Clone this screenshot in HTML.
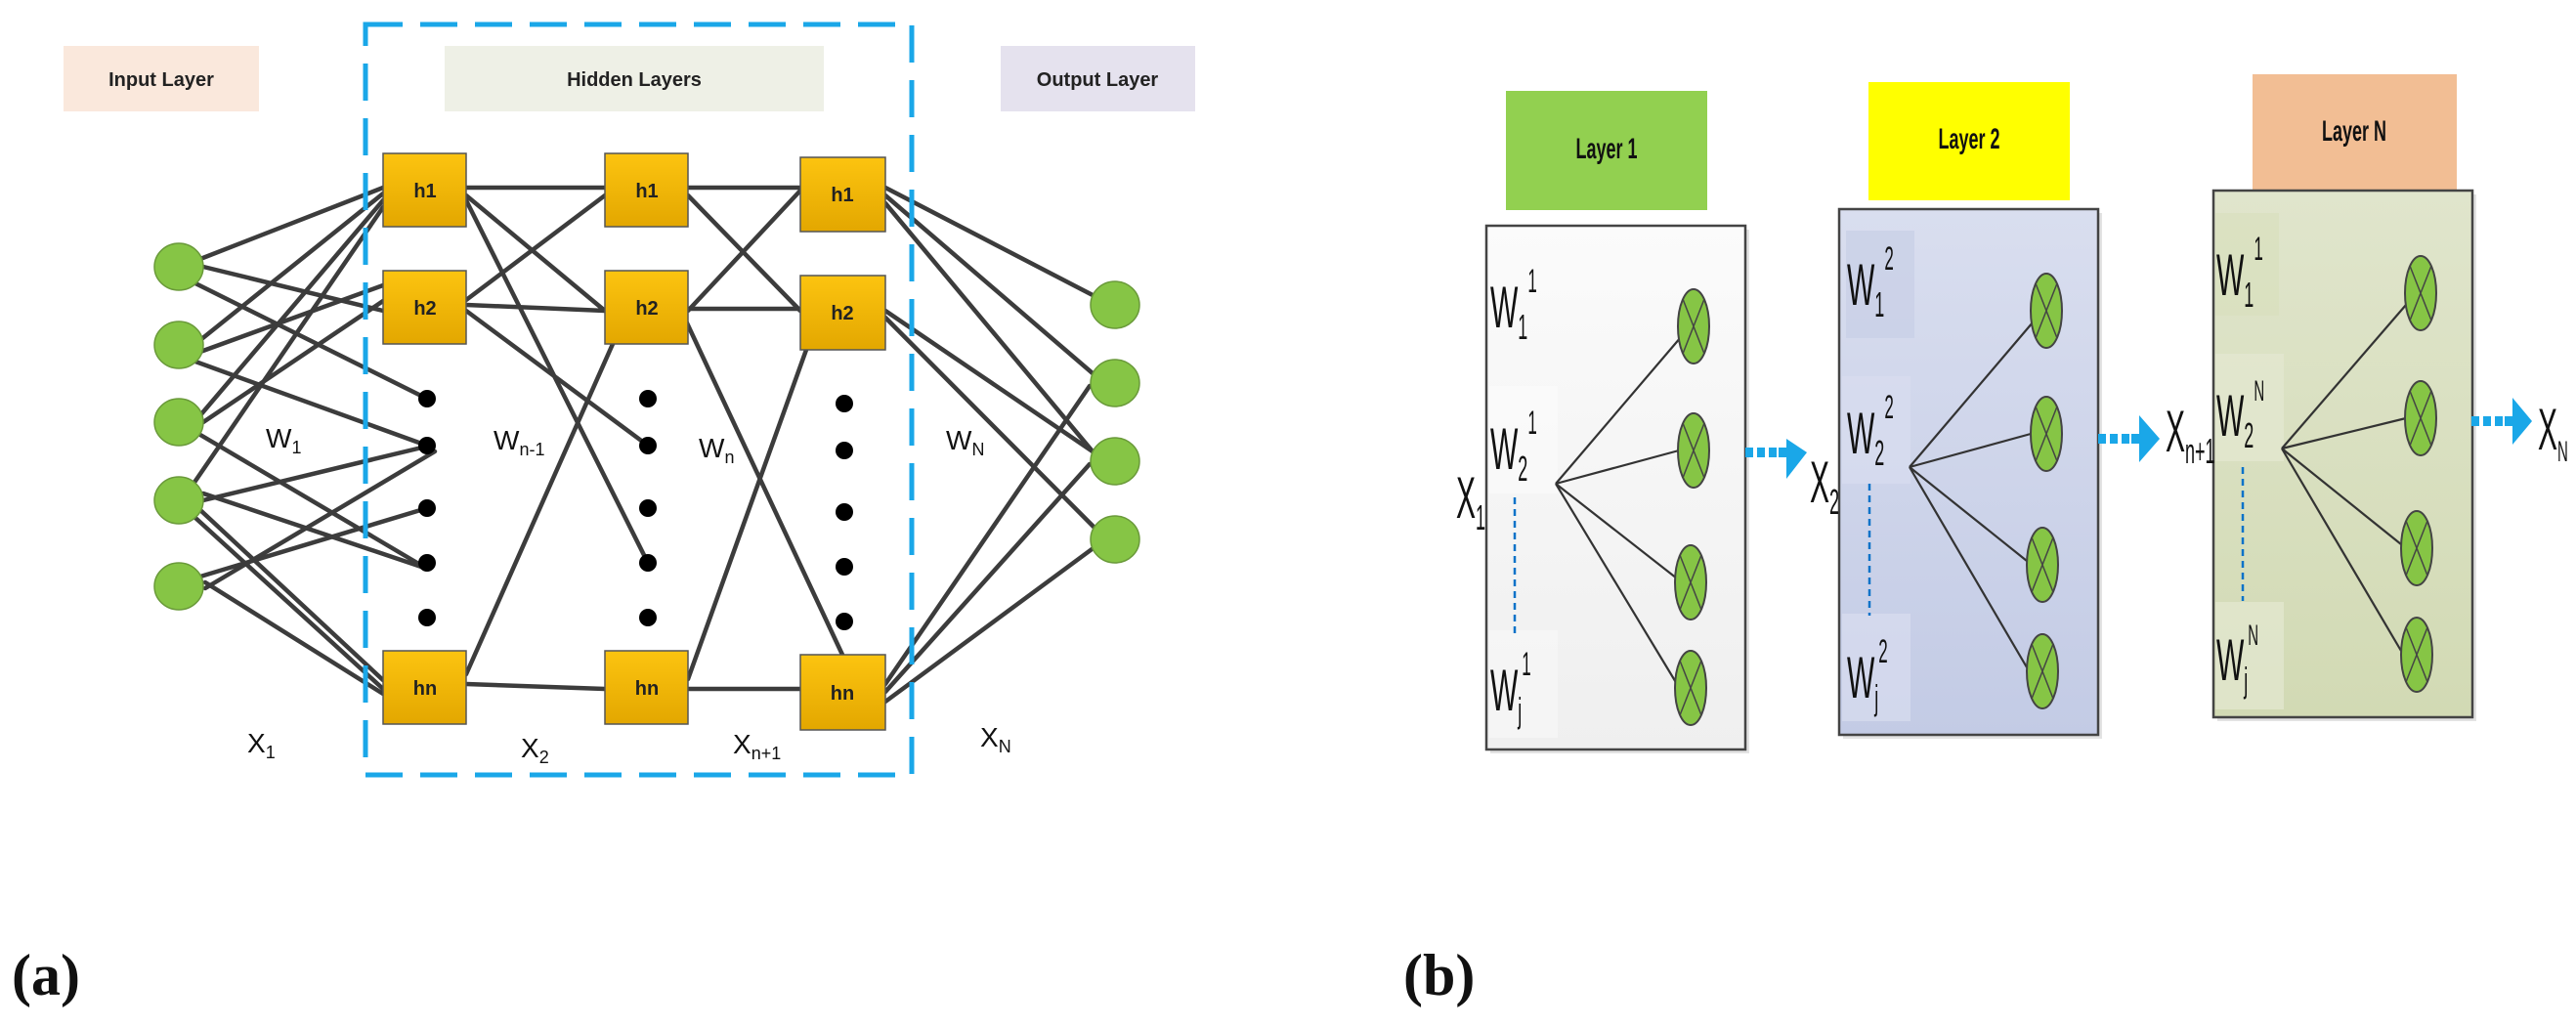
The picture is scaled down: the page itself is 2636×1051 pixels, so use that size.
<!DOCTYPE html>
<html><head><meta charset="utf-8"><style>
html,body{margin:0;padding:0;background:#fff;}
svg{display:block;}
.s{font-family:"Liberation Sans",sans-serif;}
.serif{font-family:"Liberation Serif",serif;}
</style></head><body>
<svg width="2636" height="1051" viewBox="0 0 2636 1051" xmlns="http://www.w3.org/2000/svg">
<defs>
<linearGradient id="og" x1="0" y1="0" x2="0" y2="1"><stop offset="0" stop-color="#fcc410"/><stop offset="1" stop-color="#e3a700"/></linearGradient>
<linearGradient id="p1" x1="0" y1="0" x2="0" y2="1"><stop offset="0" stop-color="#fbfbfb"/><stop offset="1" stop-color="#efefef"/></linearGradient>
<linearGradient id="p2" x1="0" y1="0" x2="0" y2="1"><stop offset="0" stop-color="#d9deef"/><stop offset="1" stop-color="#c3cbe5"/></linearGradient>
<linearGradient id="p3" x1="0" y1="0" x2="0" y2="1"><stop offset="0" stop-color="#e0e5cc"/><stop offset="1" stop-color="#d2dab4"/></linearGradient>
</defs>
<g class="s">
<!-- Panel (a) -->
<rect x="65" y="47" width="200" height="67" fill="#fae8dc"/>
<text x="165" y="88" font-size="20" font-weight="bold" text-anchor="middle" fill="#222">Input Layer</text>
<rect x="455" y="47" width="388" height="67" fill="#eef0e6"/>
<text x="649" y="88" font-size="20" font-weight="bold" text-anchor="middle" fill="#222">Hidden Layers</text>
<rect x="1024" y="47" width="199" height="67" fill="#e5e2ee"/>
<text x="1123" y="88" font-size="20" font-weight="bold" text-anchor="middle" fill="#222">Output Layer</text>

<g stroke="#3c3c3c" stroke-width="4.5" stroke-linecap="round">
<line x1="205" y1="265" x2="392" y2="192"/>
<line x1="208" y1="273" x2="392" y2="318"/>
<line x1="200" y1="290" x2="437" y2="408"/>
<line x1="205" y1="348" x2="392" y2="198"/>
<line x1="205" y1="360" x2="392" y2="292"/>
<line x1="200" y1="370" x2="437" y2="456"/>
<line x1="205" y1="425" x2="392" y2="205"/>
<line x1="208" y1="432" x2="392" y2="308"/>
<line x1="205" y1="445" x2="437" y2="582"/>
<line x1="198" y1="495" x2="392" y2="212"/>
<line x1="208" y1="512" x2="440" y2="456"/>
<line x1="208" y1="505" x2="437" y2="582"/>
<line x1="205" y1="522" x2="392" y2="696"/>
<line x1="200" y1="530" x2="392" y2="705"/>
<line x1="205" y1="590" x2="437" y2="520"/>
<line x1="210" y1="602" x2="445" y2="462"/>
<line x1="210" y1="596" x2="392" y2="710"/>
<line x1="477" y1="192" x2="619" y2="192"/>
<line x1="477" y1="200" x2="619" y2="318"/>
<line x1="477" y1="205" x2="663" y2="576"/>
<line x1="477" y1="307" x2="619" y2="200"/>
<line x1="477" y1="312" x2="619" y2="318"/>
<line x1="477" y1="318" x2="663" y2="456"/>
<line x1="477" y1="690" x2="627" y2="352"/>
<line x1="477" y1="700" x2="619" y2="705"/>
<line x1="704" y1="192" x2="819" y2="192"/>
<line x1="704" y1="200" x2="819" y2="318"/>
<line x1="704" y1="318" x2="819" y2="195"/>
<line x1="704" y1="316" x2="819" y2="316"/>
<line x1="698" y1="320" x2="862" y2="670"/>
<line x1="704" y1="695" x2="825" y2="358"/>
<line x1="704" y1="705" x2="819" y2="705"/>
<line x1="906" y1="192" x2="1120" y2="303"/>
<line x1="906" y1="200" x2="1118" y2="382"/>
<line x1="906" y1="208" x2="1118" y2="462"/>
<line x1="906" y1="318" x2="1118" y2="462"/>
<line x1="906" y1="325" x2="1120" y2="540"/>
<line x1="906" y1="700" x2="1115" y2="395"/>
<line x1="906" y1="708" x2="1115" y2="475"/>
<line x1="906" y1="718" x2="1120" y2="560"/>
</g>

<g fill="#86c545" stroke="#6a9a3a" stroke-width="1.5">
<ellipse cx="183" cy="273" rx="25" ry="24"/>
<ellipse cx="183" cy="353" rx="25" ry="24"/>
<ellipse cx="183" cy="432" rx="25" ry="24"/>
<ellipse cx="183" cy="512" rx="25" ry="24"/>
<ellipse cx="183" cy="600" rx="25" ry="24"/>
<ellipse cx="1141" cy="312" rx="25" ry="24"/>
<ellipse cx="1141" cy="392" rx="25" ry="24"/>
<ellipse cx="1141" cy="472" rx="25" ry="24"/>
<ellipse cx="1141" cy="552" rx="25" ry="24"/>
</g>

<g fill="url(#og)" stroke="#555" stroke-width="1.5">
<rect x="392" y="157" width="85" height="75"/>
<rect x="392" y="277" width="85" height="75"/>
<rect x="392" y="666" width="85" height="75"/>
<rect x="619" y="157" width="85" height="75"/>
<rect x="619" y="277" width="85" height="75"/>
<rect x="619" y="666" width="85" height="75"/>
<rect x="819" y="161" width="87" height="76"/>
<rect x="819" y="282" width="87" height="76"/>
<rect x="819" y="670" width="87" height="77"/>
</g>
<g font-size="20" font-weight="bold" text-anchor="middle" fill="#222">
<text x="435" y="202">h1</text><text x="435" y="322">h2</text><text x="435" y="711">hn</text>
<text x="662" y="202">h1</text><text x="662" y="322">h2</text><text x="662" y="711">hn</text>
<text x="862" y="206">h1</text><text x="862" y="327">h2</text><text x="862" y="716">hn</text>
</g>
<g fill="#000">
<circle cx="437" cy="408" r="9"/><circle cx="437" cy="456" r="9"/><circle cx="437" cy="520" r="9"/><circle cx="437" cy="576" r="9"/><circle cx="437" cy="632" r="9"/>
<circle cx="663" cy="408" r="9"/><circle cx="663" cy="456" r="9"/><circle cx="663" cy="520" r="9"/><circle cx="663" cy="576" r="9"/><circle cx="663" cy="632" r="9"/>
<circle cx="864" cy="413" r="9"/><circle cx="864" cy="461" r="9"/><circle cx="864" cy="524" r="9"/><circle cx="864" cy="580" r="9"/><circle cx="864" cy="636" r="9"/>
</g>
<rect x="374" y="25" width="559" height="768" fill="none" stroke="#1aa7e8" stroke-width="5" stroke-dasharray="38,18"/>

<g font-size="28" fill="#111">
<text x="272" y="458">W<tspan font-size="18" dy="6">1</tspan></text>
<text x="505" y="460">W<tspan font-size="18" dy="6">n-1</tspan></text>
<text x="715" y="468">W<tspan font-size="18" dy="6">n</tspan></text>
<text x="968" y="460">W<tspan font-size="18" dy="6">N</tspan></text>
<text x="253" y="770">X<tspan font-size="18" dy="6">1</tspan></text>
<text x="533" y="775">X<tspan font-size="18" dy="6">2</tspan></text>
<text x="750" y="771">X<tspan font-size="18" dy="6">n+1</tspan></text>
<text x="1003" y="764">X<tspan font-size="18" dy="6">N</tspan></text>
</g>

<!-- Panel (b) -->
<rect x="1541" y="93" width="206" height="122" fill="#92d050"/>
<rect x="1912" y="84" width="206" height="121" fill="#ffff00"/>
<rect x="2305" y="76" width="209" height="121" fill="#f2be94"/>
<g font-size="30" font-weight="bold" text-anchor="middle" fill="#111">
<text x="1644" y="162" transform="translate(1644 0) scale(0.6 1) translate(-1644 0)">Layer 1</text>
<text x="2015" y="152" transform="translate(2015 0) scale(0.6 1) translate(-2015 0)">Layer 2</text>
<text x="2409" y="144" transform="translate(2409 0) scale(0.6 1) translate(-2409 0)">Layer N</text>
</g>

<rect x="1525" y="235" width="265" height="536" fill="#e3e3e3"/>
<rect x="1521" y="231" width="265" height="536" fill="url(#p1)" stroke="#444" stroke-width="2.5"/>
<rect x="1886" y="218" width="265" height="538" fill="#e3e3e3"/>
<rect x="1882" y="214" width="265" height="538" fill="url(#p2)" stroke="#444" stroke-width="2.5"/>
<rect x="2269" y="199" width="265" height="539" fill="#e3e3e3"/>
<rect x="2265" y="195" width="265" height="539" fill="url(#p3)" stroke="#444" stroke-width="2.5"/>

<rect x="1524" y="395" width="70" height="110" fill="#fafafa" opacity="0.8"/>
<rect x="1524" y="645" width="70" height="110" fill="#f6f6f6" opacity="0.8"/>
<rect x="1889" y="236" width="70" height="110" fill="#c8cfe6" opacity="0.7"/>
<rect x="1885" y="385" width="70" height="110" fill="#d8ddef" opacity="0.7"/>
<rect x="1885" y="628" width="70" height="110" fill="#d8ddef" opacity="0.7"/>
<rect x="2267" y="218" width="65" height="105" fill="#d8dfbe" opacity="0.7"/>
<rect x="2267" y="362" width="70" height="110" fill="#e4e8d2" opacity="0.7"/>
<rect x="2267" y="616" width="70" height="110" fill="#e4e8d2" opacity="0.7"/>

<g stroke="#333" stroke-width="2.2">
<line x1="1592" y1="495" x2="1720" y2="345"/><line x1="1592" y1="495" x2="1718" y2="461"/><line x1="1592" y1="495" x2="1716" y2="592"/><line x1="1592" y1="495" x2="1716" y2="700"/>
<line x1="1954" y1="478" x2="2080" y2="330"/><line x1="1954" y1="478" x2="2078" y2="444"/><line x1="1954" y1="478" x2="2074" y2="574"/><line x1="1954" y1="478" x2="2074" y2="683"/>
<line x1="2335" y1="459" x2="2462" y2="312"/><line x1="2335" y1="459" x2="2462" y2="428"/><line x1="2335" y1="459" x2="2457" y2="557"/><line x1="2335" y1="459" x2="2457" y2="666"/>
</g>
<g stroke="#0a72c8" stroke-width="2.5" stroke-dasharray="7,5">
<line x1="1550" y1="509" x2="1550" y2="651"/><line x1="1913" y1="495" x2="1913" y2="630"/><line x1="2295" y1="478" x2="2295" y2="615"/>
</g>
<g fill="#86c545" stroke="#444" stroke-width="2">
<ellipse cx="1733" cy="334" rx="16" ry="38"/><ellipse cx="1733" cy="461" rx="16" ry="38"/><ellipse cx="1730" cy="596" rx="16" ry="38"/><ellipse cx="1730" cy="704" rx="16" ry="38"/>
<ellipse cx="2094" cy="318" rx="16" ry="38"/><ellipse cx="2094" cy="444" rx="16" ry="38"/><ellipse cx="2090" cy="578" rx="16" ry="38"/><ellipse cx="2090" cy="687" rx="16" ry="38"/>
<ellipse cx="2477" cy="300" rx="16" ry="38"/><ellipse cx="2477" cy="428" rx="16" ry="38"/><ellipse cx="2473" cy="561" rx="16" ry="38"/><ellipse cx="2473" cy="670" rx="16" ry="38"/>
</g>
<g stroke="#444" stroke-width="1.5">
<path d="M1722 306L1744 362M1744 306L1722 362M1722 433L1744 489M1744 433L1722 489M1719 568L1741 624M1741 568L1719 624M1719 676L1741 732M1741 676L1719 732"/>
<path d="M2083 290L2105 346M2105 290L2083 346M2083 416L2105 472M2105 416L2083 472M2079 550L2101 606M2101 550L2079 606M2079 659L2101 715M2101 659L2079 715"/>
<path d="M2466 272L2488 328M2488 272L2466 328M2466 400L2488 456M2488 400L2466 456M2462 533L2484 589M2484 533L2462 589M2462 642L2484 698M2484 642L2462 698"/>
</g>

<g fill="#1aa7e8">
<rect x="1786" y="458" width="8" height="10"/><rect x="1798" y="458" width="8" height="10"/><rect x="1810" y="458" width="8" height="10"/><rect x="1820" y="458" width="10" height="10"/>
<polygon points="1828,449 1849,463 1828,490"/>
<rect x="2147" y="444" width="8" height="10"/><rect x="2159" y="444" width="8" height="10"/><rect x="2171" y="444" width="8" height="10"/><rect x="2181" y="444" width="10" height="10"/>
<polygon points="2189,425 2210,449 2189,473"/>
<rect x="2529" y="426" width="8" height="10"/><rect x="2541" y="426" width="8" height="10"/><rect x="2553" y="426" width="8" height="10"/><rect x="2563" y="426" width="10" height="10"/>
<polygon points="2571,407 2591,431 2571,455"/>
</g>

<g font-size="60" fill="#111">
<g transform="translate(1525 0) scale(0.5 1) translate(-1525 0)">
<text x="1525" y="335">W<tspan font-size="36" dy="12">1</tspan><tspan font-size="34" dy="-48">1</tspan></text>
<text x="1525" y="480">W<tspan font-size="36" dy="12">2</tspan><tspan font-size="34" dy="-48">1</tspan></text>
<text x="1525" y="727">W<tspan font-size="36" dy="12">j</tspan><tspan font-size="34" dy="-48">1</tspan></text>
</g>
<g transform="translate(1890 0) scale(0.5 1) translate(-1890 0)">
<text x="1890" y="312">W<tspan font-size="36" dy="12">1</tspan><tspan font-size="34" dy="-48">2</tspan></text>
<text x="1890" y="464">W<tspan font-size="36" dy="12">2</tspan><tspan font-size="34" dy="-48">2</tspan></text>
<text x="1890" y="714">W<tspan font-size="36" dy="12">j</tspan><tspan font-size="34" dy="-48">2</tspan></text>
</g>
<g transform="translate(2268 0) scale(0.5 1) translate(-2268 0)">
<text x="2268" y="302">W<tspan font-size="36" dy="12">1</tspan><tspan font-size="34" dy="-48">1</tspan></text>
<text x="2268" y="446">W<tspan font-size="36" dy="12">2</tspan><tspan font-size="30" dy="-48">N</tspan></text>
<text x="2268" y="696">W<tspan font-size="36" dy="12">j</tspan><tspan font-size="30" dy="-48">N</tspan></text>
</g>
<text x="1490" y="530" transform="translate(1490 0) scale(0.5 1) translate(-1490 0)">X<tspan font-size="36" dy="12">1</tspan></text>
<text x="1852" y="514" transform="translate(1852 0) scale(0.5 1) translate(-1852 0)">X<tspan font-size="36" dy="12">2</tspan></text>
<text x="2216" y="462" transform="translate(2216 0) scale(0.5 1) translate(-2216 0)">X<tspan font-size="36" dy="12">n+1</tspan></text>
<text x="2597" y="460" transform="translate(2597 0) scale(0.5 1) translate(-2597 0)">X<tspan font-size="30" dy="12">N</tspan></text>
</g>
</g>
<text class="serif" x="12" y="1018" font-size="60" font-weight="bold" fill="#111">(a)</text>
<text class="serif" x="1436" y="1018" font-size="60" font-weight="bold" fill="#111">(b)</text>
</svg>
</body></html>
